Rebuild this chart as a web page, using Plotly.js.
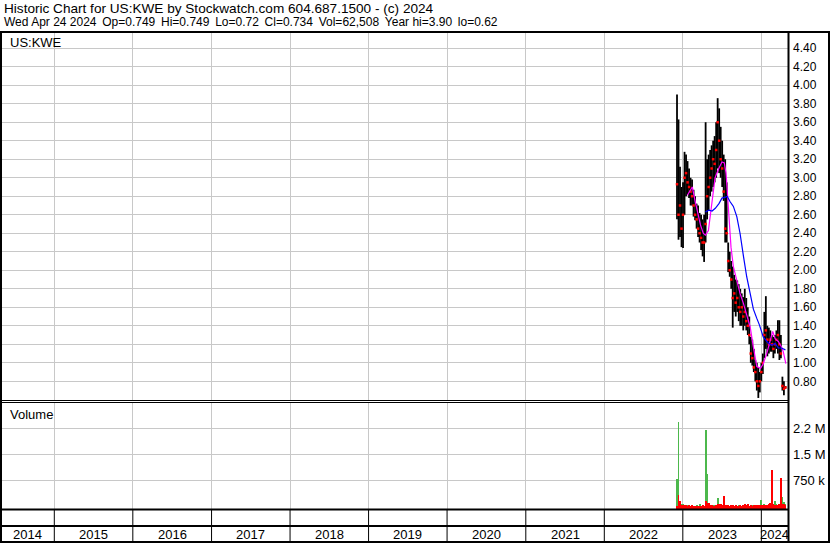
<!DOCTYPE html>
<html>
<head>
<meta charset="utf-8">
<script src="https://cdn.plot.ly/plotly-3.0.1.min.js"></script>
<style>html,body{margin:0;padding:0;background:#fff;}#chart{width:830px;height:543px;}</style>
</head>
<body>
<div id="chart"></div>
<script>
// ---- data (weekly bars) ----
const DATES = ["2022-12-05","2022-12-12","2022-12-19","2022-12-26",
"2023-01-02","2023-01-09","2023-01-16","2023-01-23","2023-01-30",
"2023-02-06","2023-02-13","2023-02-20","2023-02-27",
"2023-03-06","2023-03-13","2023-03-20","2023-03-27",
"2023-04-03","2023-04-10","2023-04-17","2023-04-24",
"2023-05-01","2023-05-08","2023-05-15","2023-05-22","2023-05-29",
"2023-06-05","2023-06-12","2023-06-19","2023-06-26",
"2023-07-03","2023-07-10","2023-07-17","2023-07-24","2023-07-31",
"2023-08-07","2023-08-14","2023-08-21","2023-08-28",
"2023-09-04","2023-09-11","2023-09-18","2023-09-25",
"2023-10-02","2023-10-09","2023-10-16","2023-10-23","2023-10-30",
"2023-11-06","2023-11-13","2023-11-20","2023-11-27",
"2023-12-04","2023-12-11","2023-12-18","2023-12-25",
"2024-01-01","2024-01-08","2024-01-15","2024-01-22","2024-01-29",
"2024-02-05","2024-02-12","2024-02-19","2024-02-26",
"2024-03-04","2024-03-11","2024-03-18","2024-03-25",
"2024-04-01","2024-04-08","2024-04-15","2024-04-22"];

const HIGH = [3.90,3.63,3.12,2.90,2.95,3.28,3.25,3.18,3.10,3.00,
2.98,2.87,2.80,2.72,2.70,2.62,2.60,2.55,2.60,3.60,
3.20,3.25,3.30,3.35,3.40,3.45,3.60,3.86,3.75,3.55,
3.40,3.25,3.20,2.95,2.30,2.20,2.10,2.04,1.95,1.90,
1.89,1.85,1.80,1.75,1.71,1.80,1.70,1.60,1.50,1.28,
1.25,1.15,1.03,1.00,0.95,0.90,1.00,1.10,1.55,1.72,
1.40,1.38,1.35,1.30,1.28,1.30,1.35,1.46,1.46,1.30,
0.85,0.80,0.749];

const LOW = [2.55,2.33,2.36,2.25,2.24,2.60,2.80,2.82,2.78,2.70,
2.70,2.58,2.54,2.45,2.36,2.30,2.22,2.15,2.09,2.30,
2.55,2.65,2.80,2.85,2.90,2.95,3.00,3.10,3.05,3.00,
2.90,2.75,2.30,2.30,1.98,1.93,1.80,1.38,1.55,1.50,
1.55,1.45,1.40,1.40,1.35,1.40,1.35,1.30,1.20,1.00,
0.97,0.90,0.80,0.70,0.62,0.68,0.80,0.88,1.05,1.15,
1.07,1.10,1.12,1.12,1.05,1.10,1.15,1.10,1.03,1.05,
0.70,0.65,0.72];

const CLOSE = [2.93,2.60,2.70,2.45,2.60,3.00,3.05,2.95,2.90,2.85,
2.80,2.70,2.60,2.55,2.45,2.40,2.35,2.30,2.30,2.50,
2.80,2.90,3.00,3.10,3.20,3.15,3.30,3.60,3.40,3.20,
3.10,2.85,2.45,2.40,2.10,2.00,1.90,1.70,1.75,1.65,
1.70,1.60,1.55,1.60,1.50,1.55,1.45,1.40,1.30,1.10,
1.05,0.95,0.90,0.80,0.75,0.80,0.90,1.00,1.30,1.35,
1.25,1.20,1.25,1.20,1.15,1.20,1.25,1.30,1.20,1.10,
0.75,0.72,0.734];

const VOL_UP = [790000,2440000,0,60000,60000,40000,30000,30000,20000,20000,
15000,20000,20000,25000,20000,70000,20000,20000,20000,2200000,
930000,40000,30000,20000,25000,30000,40000,230000,30000,40000,
30000,20000,30000,25000,20000,15000,20000,25000,20000,15000,
20000,30000,25000,20000,20000,15000,20000,20000,15000,20000,
25000,20000,30000,20000,25000,40000,180000,40000,60000,50000,
40000,30000,40000,60000,50000,160000,66000,40000,40000,50000,
260000,134000,60000];

const VOL_DOWN = [0,330000,160000,40000,50000,30000,40000,20000,30000,20000,
25000,15000,20000,20000,15000,20000,20000,25000,20000,160000,
90000,80000,40000,30000,20000,20000,30000,60000,70000,60000,
50000,300000,40000,30000,25000,20000,30000,40000,20000,25000,
15000,20000,25000,20000,30000,66000,30000,66000,20000,30000,
20000,40000,25000,30000,50000,40000,30000,50000,40000,30000,
50000,60000,80000,1050000,60000,40000,50000,30000,60000,810000,
60000,66000,40000];

const MA_SHORT_DATES = ["2023-01-22","2023-02-14","2023-02-28","2023-03-24","2023-04-06",
"2023-04-16","2023-04-30","2023-05-15","2023-05-25","2023-05-31",
"2023-06-17","2023-07-02","2023-07-13","2023-07-21","2023-07-28",
"2023-08-05","2023-08-13","2023-08-24","2023-09-09","2023-09-24",
"2023-10-10","2023-10-25","2023-11-10","2023-11-25","2023-12-11",
"2023-12-28","2024-01-10","2024-01-26","2024-02-11","2024-02-23",
"2024-03-05","2024-03-20","2024-04-04","2024-04-12","2024-04-24"];
const MA_SHORT = [2.81,2.90,2.74,2.49,2.40,2.38,2.43,2.70,2.92,3.00,
3.10,3.17,3.16,3.05,2.81,2.51,2.25,2.04,1.89,1.75,
1.64,1.53,1.39,1.17,0.96,0.94,0.99,1.10,1.23,1.34,
1.26,1.23,1.17,1.12,0.99];

const MA_LONG_DATES = ["2023-04-16","2023-05-02","2023-05-17","2023-06-01","2023-06-18",
"2023-07-02","2023-07-18","2023-07-26","2023-08-09","2023-08-24",
"2023-09-09","2023-09-24","2023-10-10","2023-10-25","2023-11-10",
"2023-11-25","2023-12-11","2023-12-23","2024-01-10","2024-02-03",
"2024-02-19","2024-03-05","2024-03-20","2024-04-04","2024-04-22"];
const MA_LONG = [2.63,2.65,2.64,2.67,2.72,2.78,2.79,2.80,2.74,2.69,
2.58,2.40,2.15,1.93,1.75,1.58,1.48,1.41,1.28,1.21,
1.19,1.21,1.16,1.16,1.14];

const PRICE_TICKS = [0.8,1.0,1.2,1.4,1.6,1.8,2.0,2.2,2.4,2.6,2.8,3.0,3.2,3.4,3.6,3.8,4.0,4.2,4.4];
const VOL_TICKS = [750000,1500000,2250000];
const VOL_TICK_TEXT = ["750 k","1.5 M","2.2 M"];
const YEARS = [2014,2015,2016,2017,2018,2019,2020,2021,2022,2023,2024];

const HEADER1 = "Historic Chart for US:KWE by Stockwatch.com 604.687.1500 - (c) 2024";
const HEADER2_FIELDS = ["Wed Apr 24 2024","Op=0.749","Hi=0.749","Lo=0.72","Cl=0.734","Vol=62,508","Year hi=3.90","lo=0.62"];

// ---- layout geometry ----
const W = 830, H = 543, PLOT_R = 788;
const X_RANGE = ["2014-04-23 12:00", "2024-05-04"];
const VOL_FLOOR = -80000;
const FONT = "Liberation Sans, Arial, sans-serif";
const py = p => 1 - p / H;          // pixel row -> paper y
const px = p => p / PLOT_R;          // pixel col -> paper x

// high-low bars
const barX = [], barY = [];
DATES.forEach((d, i) => { barX.push(d, d, null); barY.push(LOW[i], HIGH[i], null); });

const traces = [
  {type:'scatter', mode:'lines', x:barX, y:barY, xaxis:'x', yaxis:'y',
   line:{color:'#000', width:1.8}, hoverinfo:'skip', showlegend:false, connectgaps:false},
  {type:'scatter', mode:'markers', x:DATES, y:CLOSE, xaxis:'x', yaxis:'y',
   marker:{color:'#ff0000', size:2.5, symbol:'square'}, showlegend:false},
  {type:'scatter', mode:'lines', x:MA_SHORT_DATES, y:MA_SHORT, xaxis:'x', yaxis:'y',
   line:{color:'#ff00ff', width:1.2}, showlegend:false},
  {type:'scatter', mode:'lines', x:MA_LONG_DATES, y:MA_LONG, xaxis:'x', yaxis:'y',
   line:{color:'#0000ff', width:1.2}, showlegend:false},
  {type:'bar', x:DATES, y:VOL_UP.map(v => v - VOL_FLOOR), base:VOL_FLOOR, xaxis:'x', yaxis:'y2',
   marker:{color:'#4cb84c', line:{width:0}}, width:9*86400000, showlegend:false},
  {type:'bar', x:DATES, y:VOL_DOWN.map(v => v - VOL_FLOOR), base:VOL_FLOOR, xaxis:'x', yaxis:'y2',
   marker:{color:'#ff0000', line:{width:0}}, width:9*86400000, showlegend:false}
];

const shapes = [];
const hline = (y, x0, x1, w) => shapes.push({type:'line', xref:'paper', yref:'paper',
  x0:px(x0), x1:px(x1), y0:py(y), y1:py(y), line:{color:'#000', width:w}});
const vline = (x, y0, y1, w) => shapes.push({type:'line', xref:'paper', yref:'paper',
  x0:px(x), x1:px(x), y0:py(y0), y1:py(y1), line:{color:'#000', width:w}});
hline(32, 0, W, 2);          // top frame
hline(400.5, 0, PLOT_R, 1);  // price / volume double line
hline(402.5, 0, PLOT_R, 1);
hline(509.5, 0, PLOT_R, 2);  // volume / date band
hline(526, 0, PLOT_R, 2);
hline(542, 0, W, 2);         // bottom frame
vline(1, 32, 543, 2);        // left frame
vline(788.5, 32, 543, 2);    // plot right edge
vline(829, 32, 543, 2);      // outer right edge
// year dividers in the date band
YEARS.slice(1).forEach(y => shapes.push({type:'line', xref:'x', yref:'paper',
  x0:y + '-01-01', x1:y + '-01-01', y0:py(510), y1:py(542), line:{color:'#000', width:1}}));

const annotations = [
  {text:HEADER1, xref:'paper', yref:'paper', x:px(2), y:py(8.5), xanchor:'left', yanchor:'middle', showarrow:false, font:{family:FONT, size:13.6, color:'#000'}},
  {text:HEADER2_FIELDS.join(' \u2009'), xref:'paper', yref:'paper', x:px(2), y:py(22.5), xanchor:'left', yanchor:'middle', showarrow:false, font:{family:FONT, size:12, color:'#000'}},
  {text:'US:KWE', xref:'paper', yref:'paper', x:px(8), y:py(42), xanchor:'left', yanchor:'middle', showarrow:false, font:{family:FONT, size:13, color:'#000'}},
  {text:'Volume', xref:'paper', yref:'paper', x:px(8), y:py(414), xanchor:'left', yanchor:'middle', showarrow:false, font:{family:FONT, size:13, color:'#000'}}
];
const r0 = new Date(X_RANGE[0].replace(' ', 'T') + 'Z').getTime();
const r1 = new Date(X_RANGE[1] + 'T00:00:00Z').getTime();
YEARS.forEach(y => {
  const a = Math.max(Date.UTC(y, 0, 1), r0), b = Math.min(Date.UTC(y + 1, 0, 1), r1);
  annotations.push({text:String(y), xref:'x', yref:'paper', x:new Date((a + b) / 2).toISOString().slice(0, 19).replace('T', ' '),
    y:py(534.5), xanchor:'center', yanchor:'middle', showarrow:false, font:{family:FONT, size:13, color:'#000'}});
});

const layout = {
  width:W, height:H, margin:{l:0, r:W - PLOT_R, t:0, b:0, autoexpand:false},
  paper_bgcolor:'#fff', plot_bgcolor:'#fff', showlegend:false, barmode:'overlay', bargap:0,
  font:{family:FONT, size:12, color:'#000'},
  xaxis:{type:'date', range:X_RANGE, domain:[0, 1], anchor:'y', tickmode:'linear', tick0:'2015-01-01', dtick:'M12',
    showgrid:true, gridcolor:'#c8c8c8', gridwidth:1, showticklabels:false, ticks:'', zeroline:false, showline:false},
  yaxis:{domain:[py(401), py(32)], range:[0.8 - (401 - 381.3) / 92.53, 0.8 + (381.3 - 32) / 92.53], side:'right', anchor:'x',
    tickmode:'array', tickvals:PRICE_TICKS, ticktext:PRICE_TICKS.map(v => v.toFixed(2)), ticks:'', ticklabelstandoff:4,
    showgrid:true, gridcolor:'#c8c8c8', gridwidth:1, zeroline:false, showline:false, tickfont:{family:FONT, size:12, color:'#000'}},
  yaxis2:{domain:[py(509), py(403)], range:[VOL_FLOOR, 2980000], side:'right', anchor:'x',
    tickmode:'array', tickvals:VOL_TICKS, ticktext:VOL_TICK_TEXT, ticks:'', ticklabelstandoff:4,
    showgrid:true, gridcolor:'#c8c8c8', gridwidth:1, zeroline:false, showline:false, tickfont:{family:FONT, size:13, color:'#000'}},
  shapes:shapes, annotations:annotations
};

Plotly.newPlot('chart', traces, layout, {displayModeBar:false, staticPlot:true});
</script>
</body>
</html>
